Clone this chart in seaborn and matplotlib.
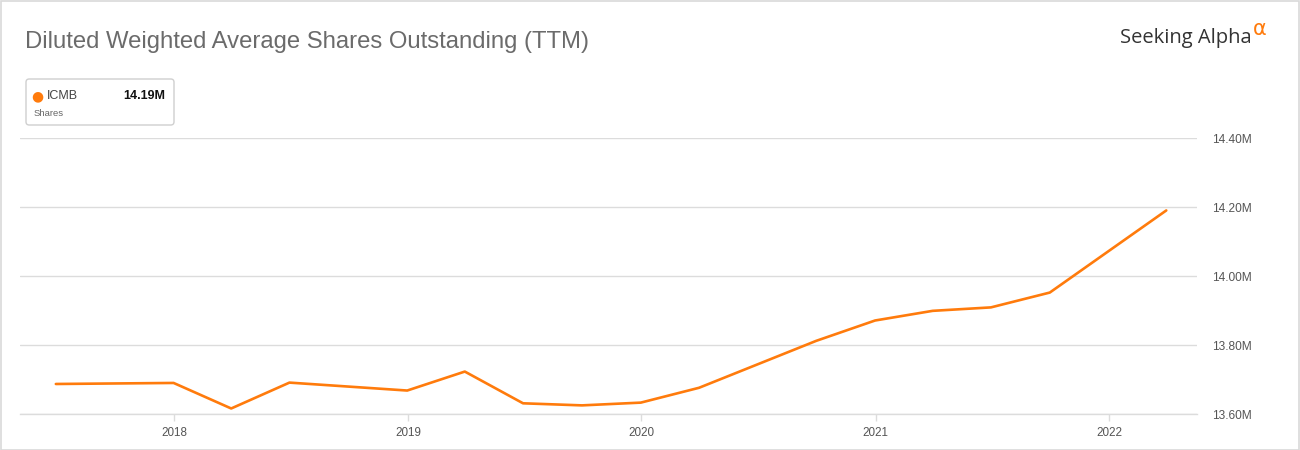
import matplotlib
matplotlib.use("Agg")
import matplotlib.pyplot as plt
from matplotlib.patches import FancyBboxPatch, Rectangle
import seaborn as sns
import pandas as pd

# ---- data ----
dates = ["2017-06-30", "2017-12-31", "2018-03-31", "2018-06-30", "2018-12-31",
         "2019-03-31", "2019-06-30", "2019-09-30", "2019-12-31", "2020-03-31",
         "2020-09-30", "2020-12-31", "2021-03-31", "2021-06-30", "2021-09-30",
         "2022-03-31"]
shares_m = [13.687, 13.690, 13.616, 13.691, 13.668,
            13.723, 13.631, 13.625, 13.633, 13.676,
            13.812, 13.871, 13.899, 13.909, 13.952,
            14.190]
yticks = [13.60, 13.80, 14.00, 14.20, 14.40]
xtick_years = ["2018", "2019", "2020", "2021", "2022"]
ticker = "ICMB"
last_label = "14.19M"
title = "Diluted Weighted Average Shares Outstanding (TTM)"

df = pd.DataFrame({"date": pd.to_datetime(dates), "shares": shares_m})

sns.set_theme(style="white")
plt.rcParams["font.family"] = ["Liberation Sans", "DejaVu Sans"]

ORANGE = "#ff7b0c"
GRID = "#dcdcdc"

fig = plt.figure(figsize=(13, 4.5), dpi=100)
fig.patch.set_facecolor("white")
ax = fig.add_axes([20 / 1300, 1 - 414 / 450, (1197 - 20) / 1300, (414 - 138) / 450])

sns.lineplot(data=df, x="date", y="shares", ax=ax, color=ORANGE, linewidth=1.9)

ax.set_xlim(pd.Timestamp("2017-05-05"), pd.Timestamp("2022-05-18"))
ax.set_ylim(13.60, 14.40)
ax.set_yticks(yticks)
ax.set_yticklabels([f"{v:.2f}M" for v in yticks])
ax.yaxis.tick_right()
ax.set_xticks([pd.Timestamp(f"{y}-01-01") for y in xtick_years])
ax.set_xticklabels(xtick_years)
ax.grid(axis="y", color=GRID, linewidth=1)
ax.grid(axis="x", visible=False)
for s in ["top", "left", "right"]:
    ax.spines[s].set_visible(False)
ax.spines["bottom"].set_color(GRID)
ax.spines["bottom"].set_linewidth(1)
ax.tick_params(axis="x", length=5, width=1, color=GRID, labelsize=8.4,
               labelcolor="#555555", pad=4, bottom=True)
ax.tick_params(axis="y", length=0, labelsize=8.6, labelcolor="#555555", pad=11)
ax.set_xlabel("")
ax.set_ylabel("")

# outer border
fig.patches.append(Rectangle((0.5 / 1300, 0.5 / 450), 1 - 1.5 / 1300, 1 - 1.5 / 450,
                             transform=fig.transFigure, fill=False,
                             edgecolor="#d9d9d9", linewidth=1.2))

# title
fig.text(25 / 1300, 1 - 42 / 450, title, fontsize=17.2, color="#6b6b6b",
         va="center", ha="left")

# logo
fig.text(1252 / 1300, 1 - 38 / 450, "Seeking Alpha", fontsize=14.5, color="#333333",
         va="center", ha="right", family=["Open Sans", "DejaVu Sans"])
fig.text(1253 / 1300, 1 - 29 / 450, "\u03b1", fontsize=15, color=ORANGE,
         va="center", ha="left", family=["DejaVu Sans"])

# legend box
box = FancyBboxPatch((26 / 1300, 1 - 125 / 450), (174 - 26) / 1300, (125 - 79) / 450,
                     boxstyle="round,pad=0,rounding_size=0.0025",
                     transform=fig.transFigure, facecolor="white",
                     edgecolor="#cfcfcf", linewidth=1, mutation_aspect=1300 / 450)
fig.patches.append(box)
fig.text(37 / 1300, 1 - 96 / 450, "\u25cf", fontsize=10, color=ORANGE,
         va="center", ha="center", family=["DejaVu Sans"])
fig.text(46.5 / 1300, 1 - 96 / 450, ticker, fontsize=9, color="#444444",
         va="center", ha="left")
fig.text(165 / 1300, 1 - 96 / 450, last_label, fontsize=9, color="#111111",
         va="center", ha="right", fontweight="bold")
fig.text(34 / 1300, 1 - 113 / 450, "Shares", fontsize=6.8, color="#666666",
         va="center", ha="left")

fig.savefig("out.png", dpi=100, facecolor="white")
